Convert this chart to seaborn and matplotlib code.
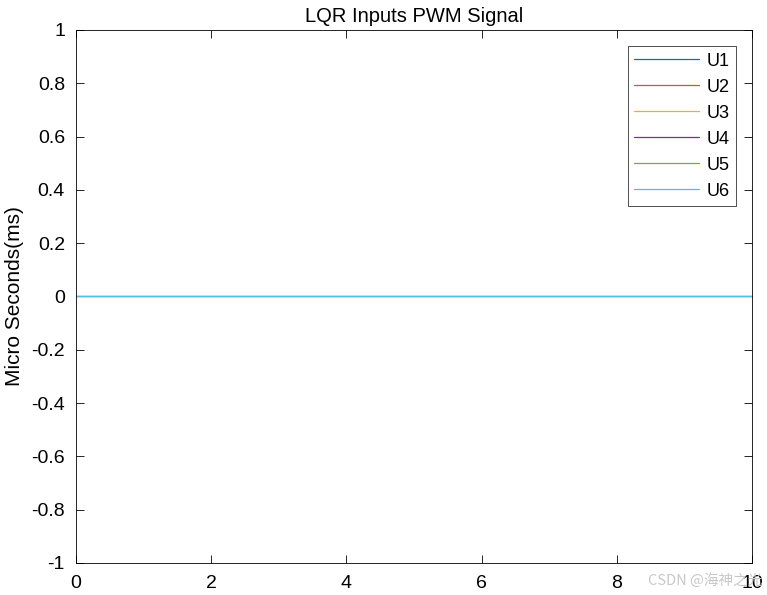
import numpy as np
import pandas as pd
import matplotlib.pyplot as plt
import seaborn as sns

sns.set_style("ticks")
plt.rcParams['font.family'] = ['Liberation Sans', 'Noto Sans CJK SC', 'DejaVu Sans']
plt.rcParams.update({"text.color": "black", "axes.labelcolor": "black",
                     "xtick.color": "black", "ytick.color": "black",
                     "axes.edgecolor": "black"})

# time axis and the six LQR input signals (all flat at zero)
time = [0, 2, 4, 6, 8, 10]
u1 = [0, 0, 0, 0, 0, 0]
u2 = [0, 0, 0, 0, 0, 0]
u3 = [0, 0, 0, 0, 0, 0]
u4 = [0, 0, 0, 0, 0, 0]
u5 = [0, 0, 0, 0, 0, 0]
u6 = [0, 0, 0, 0, 0, 0]
names = ["U1", "U2", "U3", "U4", "U5", "U6"]

df = pd.DataFrame({"t": time, "U1": u1, "U2": u2, "U3": u3, "U4": u4, "U5": u5, "U6": u6})
long_df = df.melt(id_vars="t", var_name="signal", value_name="value")

matlab_colors = ["#0072BD", "#D95319", "#EDB120", "#7E2F8E", "#77AC30", "#4DBEEE"]

fig = plt.figure(figsize=(7.67, 5.95), dpi=100)
ax = fig.add_axes([0.0991, 0.0538, 0.8813, 0.8958])

sns.lineplot(data=long_df, x="t", y="value", hue="signal", hue_order=names,
             palette=matlab_colors, linewidth=0.8, ax=ax)

ax.set_xlim(0, 10)
ax.set_ylim(-1, 1)
ax.set_xticks([0, 2, 4, 6, 8, 10])
ax.set_yticks(np.round(np.arange(-1, 1.01, 0.2), 1))
ax.set_yticklabels(["-1", "-0.8", "-0.6", "-0.4", "-0.2", "0", "0.2", "0.4", "0.6", "0.8", "1"])
ax.tick_params(direction="in", top=True, right=True, labelsize=14, length=6, width=0.6)
ax.tick_params(axis="y", pad=8)
ax.tick_params(axis="x", pad=9)
for s in ax.spines.values():
    s.set_linewidth(0.6)
ax.set_xlabel("")
ax.set_ylabel("Micro Seconds(ms)", fontsize=15, labelpad=5)
ax.set_title("LQR Inputs PWM Signal", fontsize=14.5, pad=6)

leg = ax.legend(loc="upper right", fontsize=13, frameon=True, fancybox=False,
                edgecolor="black", handlelength=3.6, handletextpad=0.4,
                labelspacing=0.5, borderpad=0.35, borderaxespad=0.9)
leg.get_frame().set_linewidth(0.6)
for line in leg.get_lines():
    line.set_linewidth(0.9)

fig.text(0.845, 0.017, "CSDN @海神之光", fontsize=10.5, color="#c8c8c8",
         family=['Noto Sans CJK SC', 'DejaVu Sans'])

fig.savefig("out.png", dpi=100)
